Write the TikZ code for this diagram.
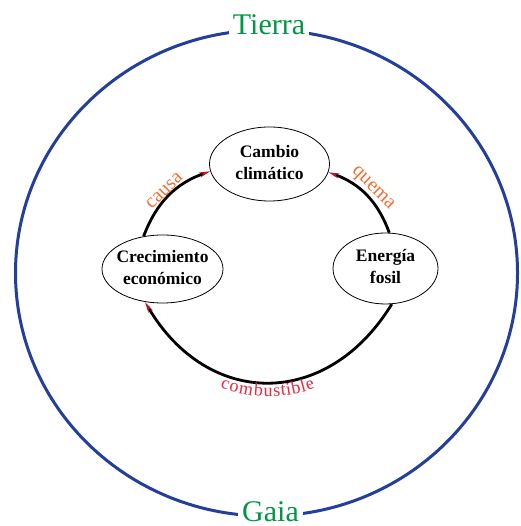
\documentclass[tikz,border=0pt]{standalone}
\usepackage{fontspec}
\setmainfont{Liberation Serif}
\usetikzlibrary{shapes.geometric,arrows.meta,decorations.text}

\definecolor{ringblue}{RGB}{35,62,155}
\definecolor{earthgreen}{RGB}{0,150,70}
\definecolor{causeorange}{RGB}{240,112,50}
\definecolor{fuelred}{RGB}{230,40,60}
\definecolor{tipred}{RGB}{185,20,35}

% two centred lines that do not widen the ellipse around them
\newcommand{\twolines}[2]{\makebox[0pt]{\begin{tabular}{@{}c@{}}#1\\#2\end{tabular}}}

\begin{document}
\begin{tikzpicture}[x=1pt,y=1pt,
  concept/.style={ellipse, draw, line width=0.8pt, inner sep=0pt,
    font=\fontsize{17.5}{22}\selectfont\bfseries},
  flow/.style={line width=2.8pt, -{Stealth[length=11pt,width=5pt,color=tipred]}},
  worldlabel/.style={text=earthgreen, fill=white, inner xsep=4pt, inner ysep=1pt,
    font=\fontsize{30}{30}\selectfont, anchor=base},
  edgelabel/.style={sloped, above, inner sep=1.5pt, text=causeorange,
    font=\fontsize{20}{20}\selectfont},
]
\useasboundingbox (0,0) rectangle (520,526);

% the planet
\draw[ringblue, line width=3pt] (266.5,253) ellipse [x radius=251, y radius=243];
\node[worldlabel] (tierra) at (269,491) {Tierra};
\node[worldlabel] (gaia) at (270.5,5) {Gaia};

% the three concepts
\node[concept, minimum width=120pt, minimum height=74pt] (cam) at (269.5,362) {\twolines{Cambio}{climático}};
\node[concept, minimum width=121pt, minimum height=68pt] (cre) at (162.5,257) {\twolines{Crecimiento}{económico}};
\node[concept, minimum width=105pt, minimum height=71pt] (ene) at (385.5,257.5) {\twolines{Energía}{fosil}};

% the cycle
\draw[flow] (cre.120) to[bend left=25] (cam.187);
\draw[flow] (ene.84) to[bend right=25] (cam.352);
\draw[flow] (ene.280) to[bend left=59, looseness=1.28] (cre.242);

% labels on the arcs
\path (cre.120) to[bend left=25] node[edgelabel, pos=0.5] (causa) {causa} (cam.187);
\path (cam.352) to[bend left=25] node[edgelabel, pos=0.5] (quema) {quema} (ene.84);
\path[decorate, decoration={text along path, text align=center, raise=-14pt,
    text color=fuelred, text={|\fontsize{18}{18}\selectfont|combustible}}]
  (cre.242) to[bend right=59, looseness=1.28] (ene.280);
\end{tikzpicture}
\end{document}
